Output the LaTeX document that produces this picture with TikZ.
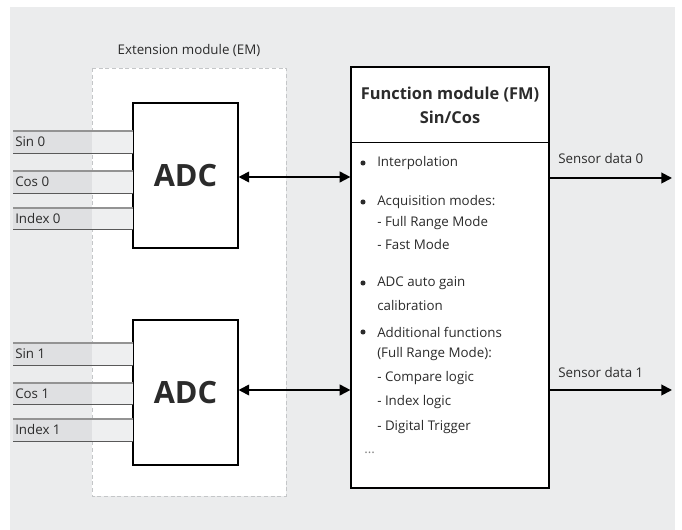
\documentclass[tikz,border=0pt]{standalone}
\usepackage{fontspec}
\setmainfont{Open Sans}
\usetikzlibrary{arrows.meta,positioning}
\definecolor{panelgray}{HTML}{EBECED}
\definecolor{banddark}{HTML}{DFE0E2}
\definecolor{bandlight}{HTML}{EEEFF0}
\definecolor{emgray}{HTML}{C4C6C8}
\definecolor{txtgray}{HTML}{2B2B2B}

\begin{document}
\begin{tikzpicture}[x=0.75pt,y=-0.75pt,
  font=\fontsize{10}{12}\selectfont, text=txtgray,
  emframe/.style={draw=emgray, dash pattern=on 3pt off 2pt, fill=white},
  adcbox/.style={draw=black, fill=white, line width=0.8pt, minimum width=78.75pt,
    minimum height=108.75pt, font=\fontsize{23}{26}\selectfont\bfseries},
  fmbox/.style={draw=black, fill=white, line width=0.9pt, minimum width=148.5pt,
    minimum height=315.75pt},
  item/.style={anchor=west, inner sep=0pt},
  link/.style={line width=1.4pt, {Triangle[length=8pt,width=8pt]}-{Triangle[length=8pt,width=8pt]}},
  outlink/.style={line width=1.4pt, -{Triangle[length=8pt,width=8pt]}}]
\useasboundingbox (0,0) rectangle (682,530);
\fill[panelgray] (10,7) rectangle (675,530);

% extension module
\draw[emframe] (92,68) rectangle (286,496);
\node[above, inner sep=0pt] (emlabel) at (189,57) {Extension module (EM)};
\node[adcbox] (adc0) at (185.5,175.5) {ADC};
\node[adcbox] (adc1) at (185.5,392.5) {ADC};

% analog inputs
\foreach \sig/\ya/\yb in {Sin 0/131/153, Cos 0/171/193, Index 0/208/229,
                          Sin 1/343/365, Cos 1/383/404, Index 1/419/441}{
  \fill[banddark] (13,\ya) rectangle (92,\yb);
  \fill[bandlight] (92,\ya) rectangle (133,\yb);
  \draw[gray!85, line width=1pt] (13,\ya) -- (133,\ya);
  \draw[black!65, line width=0.7pt] (13,\yb) -- (133,\yb);
  \node[item] at (15,{(\ya+\yb)/2}) {\sig};
}

% function module
\node[fmbox] (fm) at (450,277.5) {};
\draw[line width=0.7pt] (fm.west |- 0,142) -- (fm.east |- 0,142);
\node[align=center, font=\fontsize{12.3}{18}\selectfont\bfseries] (fmtitle) at (450,105)
  {Function module (FM)\\Sin/Cos};
\foreach \y in {163,202,283,332}
  \fill[txtgray] (363,\y) circle[radius=1.9pt];
\foreach \txt/\y in {Interpolation/163, Acquisition modes:/202, - Full Range Mode/223,
                     - Fast Mode/245, ADC auto gain/283, calibration/306,
                     Additional functions/332, (Full Range Mode):/354, - Compare logic/378,
                     - Index logic/402, - Digital Trigger/427}
  \node[item] at (377,\y) {\txt};
\node[item, text=gray] at (364,453) {...};

% connections
\coordinate (out0) at (672,178);
\coordinate (out1) at (672,390);
\draw[link] (adc0.east |- 0,177) -- (fm.west |- 0,177);
\draw[link] (adc1.east |- 0,390) -- (fm.west |- 0,390);
\draw[outlink] (fm.east |- out0) -- (out0);
\draw[outlink] (fm.east |- out1) -- (out1);
\node[item] (s0) at (558,159) {Sensor data 0};
\node[item] (s1) at (558,373) {Sensor data 1};
\end{tikzpicture}
\end{document}
